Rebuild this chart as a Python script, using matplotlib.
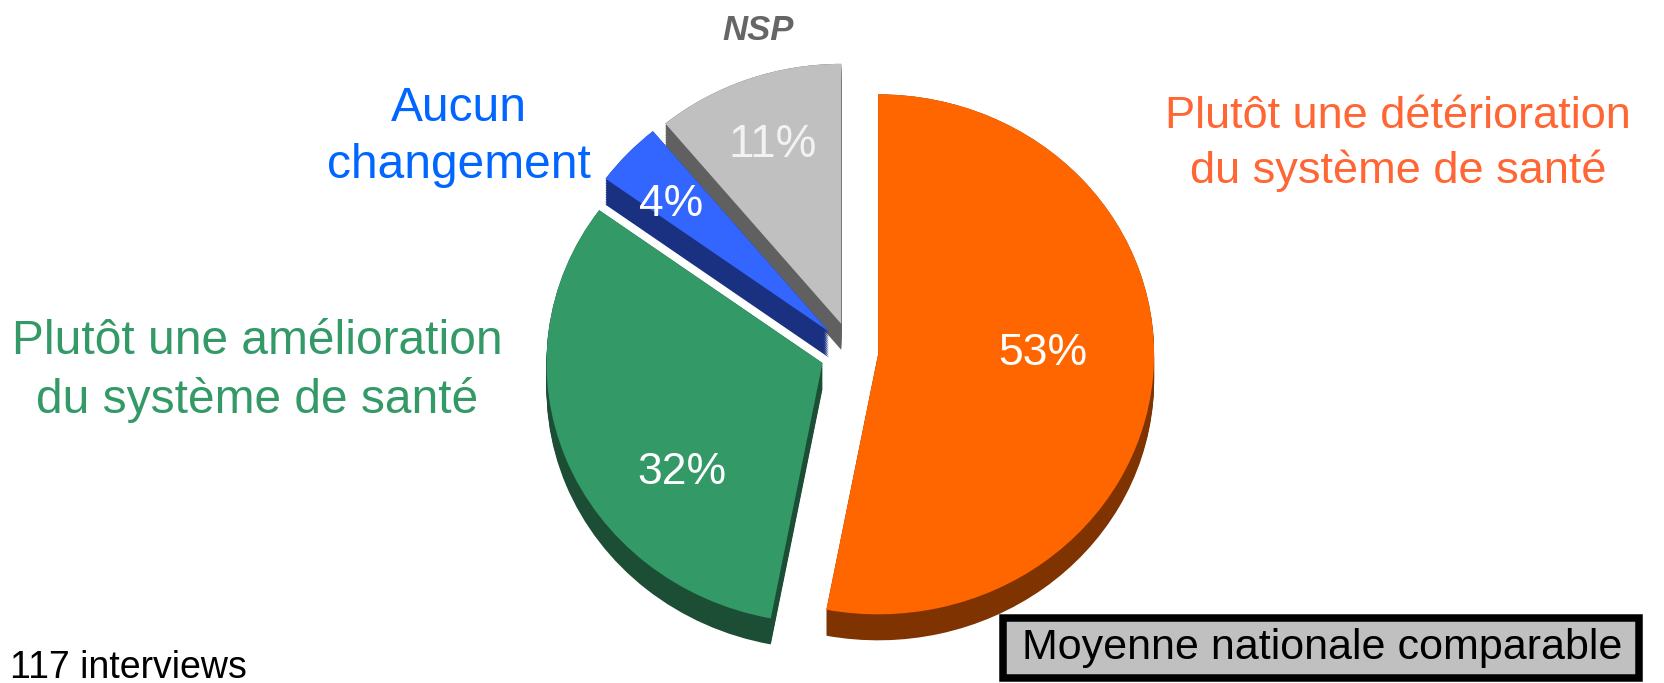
import numpy as np
import matplotlib.pyplot as plt
from matplotlib.patches import Rectangle

plt.rcParams['font.family'] = ['Liberation Sans', 'DejaVu Sans']

categories = ["Plutôt une détérioration\ndu système de santé",
              "Plutôt une amélioration\ndu système de santé",
              "Aucun\nchangement",
              "NSP"]
shares = [53, 32, 4, 11]
top_colors = ["#FF6600", "#339966", "#3366FF", "#C0C0C0"]
side_colors = ["#7F3300", "#1C4D35", "#1A3080", "#606060"]
label_colors = ["#FF6633", "#339966", "#0066FF", "#666666"]
pct_colors = ["white", "white", "white", "#F2F2F2"]
explode = [0.095, 0.115, 0.115, 0.115]
n_interviews = 117
note = "Moyenne nationale comparable"

W, H = 1664, 683
fig = plt.figure(figsize=(W / 100, H / 100), dpi=100)
ax = fig.add_axes([0, 0, 1, 1])

cx, cy = 852, 352  # pie centre, pixels from top-left
rx, ry = 276, 260  # tilted pie -> slightly flattened
depth = 26 / ry

# fake 3d: stack dark copies downwards, then the top face
for k in np.linspace(depth, 0, 16):
    ax.pie(shares, explode=explode, colors=side_colors, startangle=90, counterclock=False,
           center=(0, -k), wedgeprops=dict(linewidth=0))
ax.pie(shares, explode=explode, colors=top_colors, startangle=90, counterclock=False,
       wedgeprops=dict(linewidth=0))
ax.set_aspect("auto")
ax.set_xlim(-cx / rx, (W - cx) / rx)
ax.set_ylim(-(H - cy) / ry, cy / ry)
ax.axis("off")


def put(x, y, s, **kw):
    return fig.text(x / W, 1 - y / H, s, ha="center", va="center", **kw)


pct_pos = [(1043, 353), (682, 472), (671, 205), (773, 145)]
pct_sizes = [32, 32, 32, 33]
for (x, y), v, c, fs in zip(pct_pos, shares, pct_colors, pct_sizes):
    put(x, y, "{}%".format(v), color=c, size=fs)

label_pos = [(1398, 144), (257, 371), (459, 137), (758, 30)]
label_sizes = [32.5, 34.5, 34.5, 25]
for (x, y), lab, c, fs in zip(label_pos, categories, label_colors, label_sizes):
    if lab == "NSP":
        put(x, y, lab, color=c, size=fs, weight="bold", style="italic")
    else:
        put(x, y, lab, color=c, size=fs, linespacing=1.35, multialignment="center")

# note box bottom right
fig.add_artist(Rectangle((1002.75 / W, 1 - 678.25 / H), 636.5 / W, 60.5 / H, transform=fig.transFigure,
                         facecolor="#C0C0C0", edgecolor="black", linewidth=5.4))
put(1322, 648, note, color="black", size=31)

fig.text(10 / W, 1 - 678 / H, "{} interviews".format(n_interviews), ha="left", va="baseline", size=27)

fig.savefig("out.png", dpi=100)
